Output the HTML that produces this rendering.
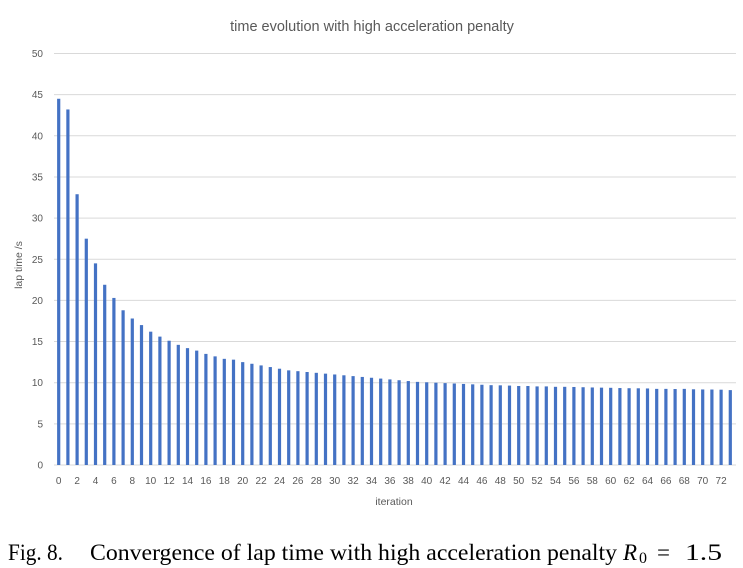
<!DOCTYPE html>
<html><head><meta charset="utf-8"><style>
body{margin:0;background:#fff;width:743px;height:568px;overflow:hidden}
svg{display:block}
</style></head><body>
<svg width="743" height="568" id="c">
<text x="372" y="31" text-anchor="middle" font-family="Liberation Sans, sans-serif" font-size="14.5" fill="#595959">time evolution with high acceleration penalty</text>
<text transform="translate(22,265) rotate(-90)" text-anchor="middle" font-family="Liberation Sans, sans-serif" font-size="10.5" fill="#595959">lap time /s</text>
<text x="394" y="505" text-anchor="middle" font-family="Liberation Sans, sans-serif" font-size="10.5" fill="#595959">iteration</text>
<text x="8" y="560" font-family="Liberation Serif, serif" font-size="23" fill="#000" textLength="55" lengthAdjust="spacingAndGlyphs">Fig. 8.</text>
<text x="90" y="560" font-family="Liberation Serif, serif" font-size="23" fill="#000" textLength="527" lengthAdjust="spacingAndGlyphs">Convergence of lap time with high acceleration penalty</text>
<text x="623" y="560" font-family="Liberation Serif, serif" font-size="23" font-style="italic" fill="#000">R</text>
<text x="639" y="563" font-family="Liberation Serif, serif" font-size="16" fill="#000">0</text>
<text x="657" y="560" font-family="Liberation Serif, serif" font-size="23" fill="#000">=</text>
<text x="685" y="560" font-family="Liberation Serif, serif" font-size="23" fill="#000" textLength="37" lengthAdjust="spacingAndGlyphs">1.5</text>
<g id="grid"></g><g id="bars"></g><g id="xt"></g>
</svg>
<script>
const categories = Array.from({length:74},(_, i)=>i);
const lapTimes = [44.5,43.2,32.9,27.5,24.5,21.9,20.3,18.8,17.8,17.0,16.2,15.6,15.1,14.6,14.2,13.9,13.5,13.2,12.9,12.8,12.5,12.3,12.1,11.9,11.7,11.5,11.4,11.3,11.2,11.1,11.0,10.9,10.8,10.7,10.6,10.5,10.4,10.3,10.2,10.1,10.05,10.0,9.95,9.9,9.85,9.8,9.75,9.7,9.68,9.65,9.6,9.6,9.55,9.55,9.5,9.5,9.48,9.45,9.42,9.4,9.38,9.35,9.33,9.32,9.3,9.25,9.25,9.23,9.25,9.2,9.18,9.17,9.15,9.1];
const yTicks = [0,5,10,15,20,25,30,35,40,45,50];
const NS="http://www.w3.org/2000/svg";
const y0=465, y1=53.5, x0=58.7, dx=9.2;
const ys=v=>y0-(v/50)*(y0-y1);
const xs=i=>x0+i*dx;
const grid=document.getElementById('grid'), bars=document.getElementById('bars'), xt=document.getElementById('xt');
yTicks.forEach(t=>{
  const l=document.createElementNS(NS,'line');
  l.setAttribute('x1',54);l.setAttribute('x2',736);l.setAttribute('y1',ys(t));l.setAttribute('y2',ys(t));
  l.setAttribute('stroke','#d9d9d9');l.setAttribute('stroke-width','1');
  
  
  grid.appendChild(l);
  const tx=document.createElementNS(NS,'text');
  tx.setAttribute('x',43);tx.setAttribute('y',ys(t)+3.5);tx.setAttribute('text-anchor','end');
  tx.setAttribute('font-family','Liberation Sans, sans-serif');tx.setAttribute('font-size','10');tx.setAttribute('fill','#595959');
  tx.textContent=t;
  
  
  grid.appendChild(tx);
});
categories.forEach((c,i)=>{
  const r=document.createElementNS(NS,'rect');
  const v=lapTimes[i];
  r.setAttribute('x',xs(i)-1.6);r.setAttribute('width',3.2);
  r.setAttribute('y',ys(v));r.setAttribute('height',y0-ys(v));
  r.setAttribute('fill','#4472c4');
  
  
  bars.appendChild(r);
  if(c%2===0){
    const tx=document.createElementNS(NS,'text');
    tx.setAttribute('x',xs(i));tx.setAttribute('y',484);tx.setAttribute('text-anchor','middle');
    tx.setAttribute('font-family','Liberation Sans, sans-serif');tx.setAttribute('font-size','10');tx.setAttribute('fill','#595959');
    tx.textContent=c;
    
    
    xt.appendChild(tx);
  }
});
</script>
</body></html>
